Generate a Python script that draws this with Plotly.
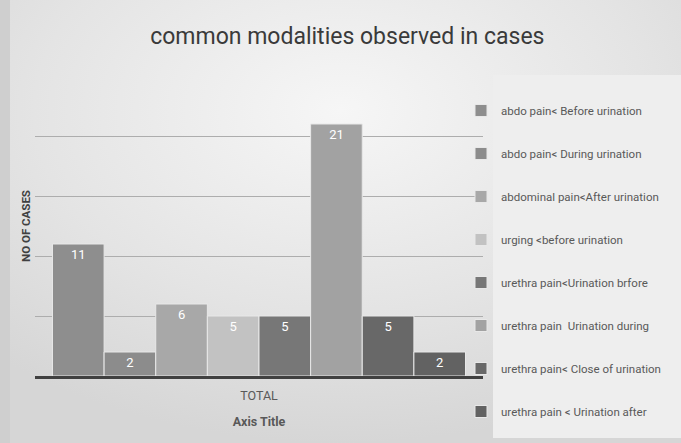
import base64
import plotly.graph_objects as go

categories = ["TOTAL"]
series_names = [
    "abdo pain< Before urination",
    "abdo pain< During urination",
    "abdominal pain<After urination",
    "urging <before urination",
    "urethra pain<Urination brfore",
    "urethra pain  Urination during",
    "urethra pain< Close of urination",
    "urethra pain < Urination after",
]
series_values = [11, 2, 6, 5, 5, 21, 5, 2]
series_colors = ["#8e8e8e", "#8c8c8c", "#a8a8a8", "#c2c2c2",
                 "#777777", "#a2a2a2", "#686868", "#626262"]

FONT = "Roboto, Arial"

fig = go.Figure()
for i, (name, val, col) in enumerate(zip(series_names, series_values, series_colors)):
    fig.add_trace(go.Bar(
        x=categories, y=[val], name=name,
        marker=dict(color=col, line=dict(color="#e8e8e8", width=1)),
        text=[str(val)], textposition="inside", insidetextanchor="end",
        textfont=dict(color="white", size=13, family=FONT),
        legendgroup=f"g{i}", cliponaxis=False,
    ))

svg = """<svg xmlns='http://www.w3.org/2000/svg' width='681' height='443'>
<defs><radialGradient id='g' cx='0.5' cy='0.25' r='0.75'>
<stop offset='0' stop-color='#f6f6f6'/><stop offset='0.6' stop-color='#e4e4e4'/>
<stop offset='1' stop-color='#d6d6d6'/></radialGradient></defs>
<rect width='681' height='443' fill='url(#g)'/>
<rect x='0' y='0' width='10' height='443' fill='#cfcfcf'/>
</svg>"""
uri = "data:image/svg+xml;base64," + base64.b64encode(svg.encode()).decode()

fig.update_layout(
    width=681, height=443,
    margin=dict(l=35, r=198, t=76, b=67, autoexpand=False),
    paper_bgcolor="#e4e4e4", plot_bgcolor="rgba(0,0,0,0)",
    barmode="group", bargap=0.078, bargroupgap=0,
    font=dict(family=FONT, color="#595959"),
    title=dict(text="common modalities observed in cases", x=0.51, xanchor="center",
               y=0.918, yanchor="middle",
               font=dict(size=23, color="#3a3a3a", family=FONT)),
    images=[dict(source=uri, xref="paper", yref="paper", x=-35/448, y=1 + 76/300,
                 sizex=681/448, sizey=443/300, xanchor="left", yanchor="top",
                 sizing="stretch", layer="below")],
    shapes=[dict(type="rect", xref="paper", yref="paper",
                 x0=(493 - 35) / 448, x1=(681 - 35) / 448,
                 y0=(376 - 438) / 300, y1=(376 - 75) / 300,
                 fillcolor="#eeeeee", line=dict(width=0), layer="below")],
    legend=dict(xref="container", yref="container", x=461 / 681, y=1 - 96 / 443,
                xanchor="left", yanchor="top", bgcolor="rgba(0,0,0,0)",
                font=dict(size=11.5, color="#595959", family=FONT),
                tracegroupgap=24, traceorder="grouped", itemwidth=30,
                maxheight=440),
    xaxis=dict(title=dict(text="<b>Axis Title</b>", font=dict(size=12.5, color="#595959"), standoff=16),
               tickfont=dict(size=12.5, color="#595959"), showline=True, linecolor="#404040",
               linewidth=2.5, ticks="", ticklabelstandoff=6),
    yaxis=dict(title=dict(text="<b>NO OF CASES</b>", font=dict(size=11.5, color="#404040"), standoff=0),
               range=[0, 25], dtick=5, showticklabels=False, showgrid=True,
               gridcolor="#adadad", gridwidth=1, zeroline=False),
)

fig.write_html("out.html", config={"displayModeBar": False},
               post_script="document.body.style.margin='0';")
